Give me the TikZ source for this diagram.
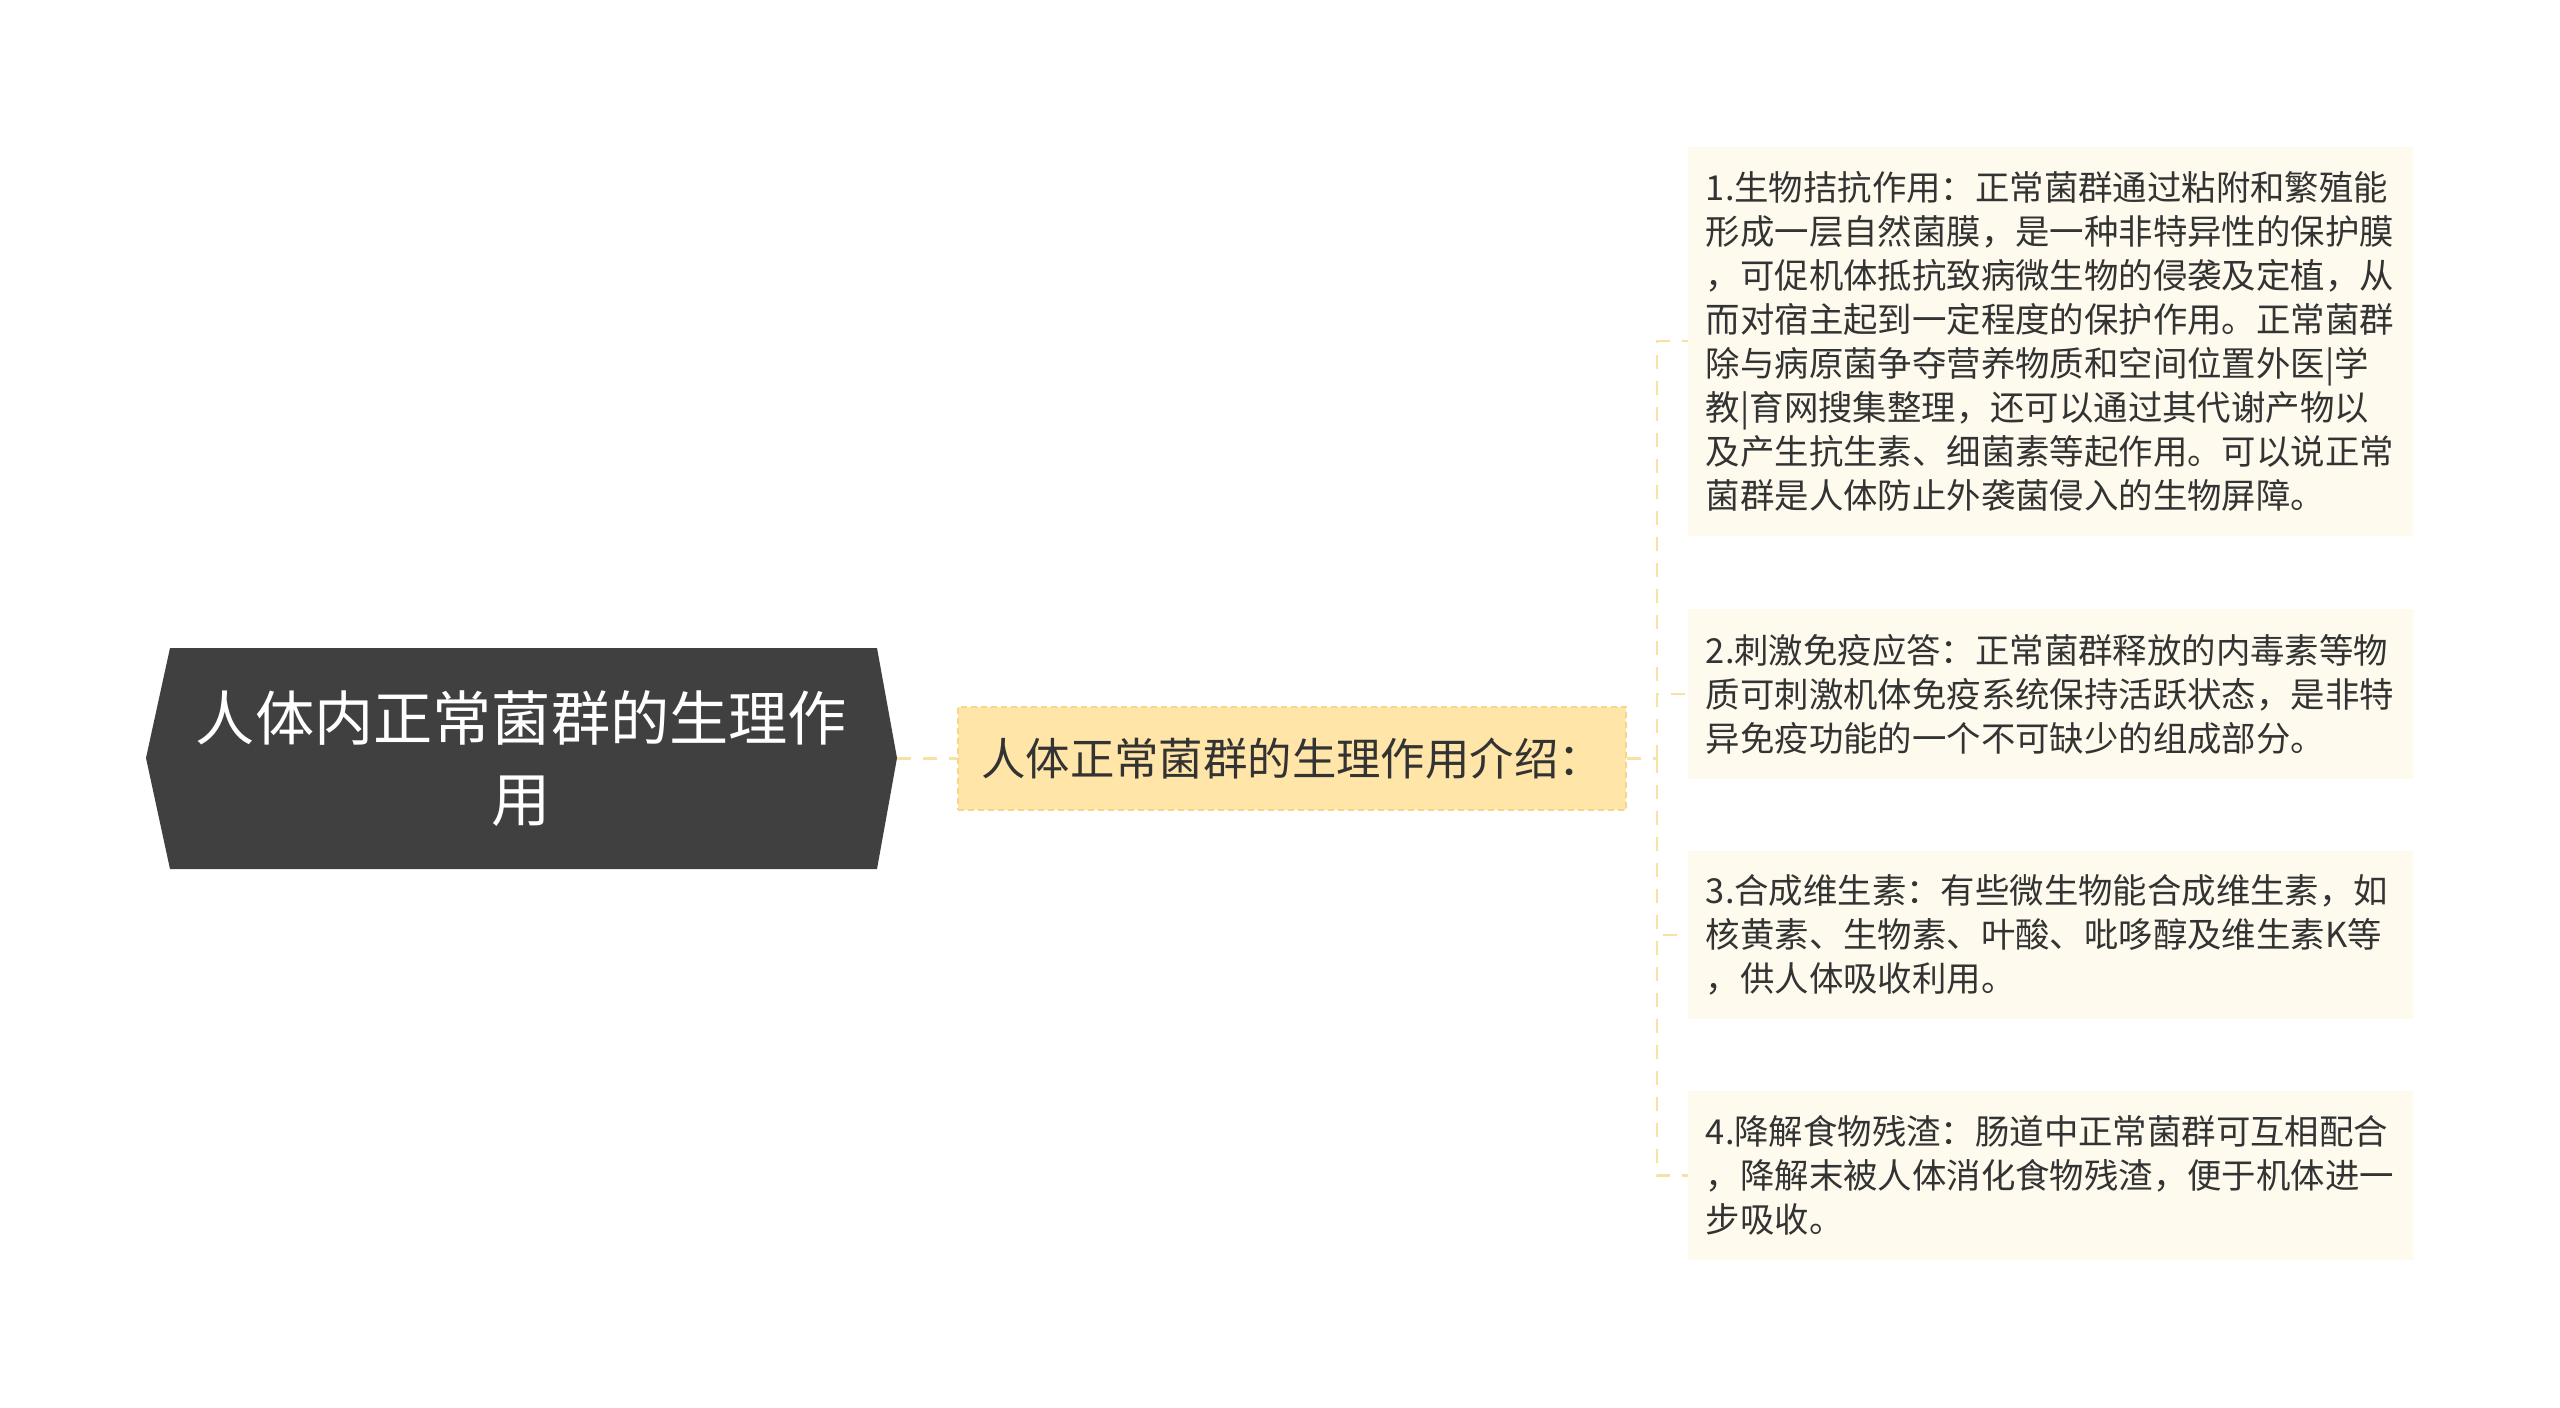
\documentclass[tikz,border=0pt]{standalone}
\usepackage{fontspec}
\setmainfont{Noto Sans CJK SC}
\hbadness=10000 \hfuzz=50pt
\definecolor{rootfill}{HTML}{404040}
\definecolor{midfill}{HTML}{FFE5A8}
\definecolor{midborder}{HTML}{F7D58A}
\definecolor{leaffill}{HTML}{FEFAEE}
\definecolor{connc}{HTML}{F9E0A4}
\definecolor{txt}{HTML}{333333}
\begin{document}
\begin{tikzpicture}[x=0.5pt,y=-0.5pt,
  conn/.style={draw=connc, line width=1.2pt, dash pattern=on 7pt off 6pt},
  leaf/.style={fill=leaffill, text=txt, anchor=west, align=left, text width=345pt,
    inner xsep=8.75pt, inner ysep=0pt, font=\fontsize{17.2pt}{22pt}\selectfont,
    minimum width=362.5pt},
]
\useasboundingbox[fill=white] (0,0) rectangle (2560,1408);
\fill[rootfill] (170,648) -- (877,648) -- (897,758) -- (877,869) -- (170,869) -- (146,758) -- cycle;
\node[text=white, align=center, font=\fontsize{29.6pt}{40.8pt}\selectfont,
  minimum width=375.5pt, minimum height=110.5pt, inner sep=0pt] (root) at (521.5,758.5)
  {人体内正常菌群的生理作\\用};
\node[fill=midfill, draw=midborder, line width=1pt, dash pattern=on 3pt off 2pt,
  minimum width=334pt, minimum height=51.5pt, inner sep=0pt, text=txt,
  font=\fontsize{22.2pt}{25pt}\selectfont] (mid) at (1292,758.5)
  {人体正常菌群的生理作用介绍：};
\node[leaf, minimum height=194.5pt] (l1) at (1688,341)
  {1.生物拮抗作用：正常菌群通过粘附和繁殖能\\形成一层自然菌膜，是一种非特异性的保护膜\\，可促机体抵抗致病微生物的侵袭及定植，从\\而对宿主起到一定程度的保护作用。正常菌群\\除与病原菌争夺营养物质和空间位置外医|学\\教|育网搜集整理，还可以通过其代谢产物以\\及产生抗生素、细菌素等起作用。可以说正常\\菌群是人体防止外袭菌侵入的生物屏障。};
\node[leaf, minimum height=85pt] (l2) at (1688,694)
  {2.刺激免疫应答：正常菌群释放的内毒素等物\\质可刺激机体免疫系统保持活跃状态，是非特\\异免疫功能的一个不可缺少的组成部分。};
\node[leaf, minimum height=84pt] (l3) at (1688,935)
  {3.合成维生素：有些微生物能合成维生素，如\\核黄素、生物素、叶酸、吡哆醇及维生素K等\\，供人体吸收利用。};
\node[leaf, minimum height=84.5pt] (l4) at (1688,1175.5)
  {4.降解食物残渣：肠道中正常菌群可互相配合\\，降解末被人体消化食物残渣，便于机体进一\\步吸收。};
\coordinate (j) at (1657,758.5);
\draw[conn] (root.east) -- (mid.west);
\draw[conn] (mid.east) -- (j);
\foreach \n in {l1,l2,l3,l4} \draw[conn] (j) |- (\n.west);
\end{tikzpicture}
\end{document}
